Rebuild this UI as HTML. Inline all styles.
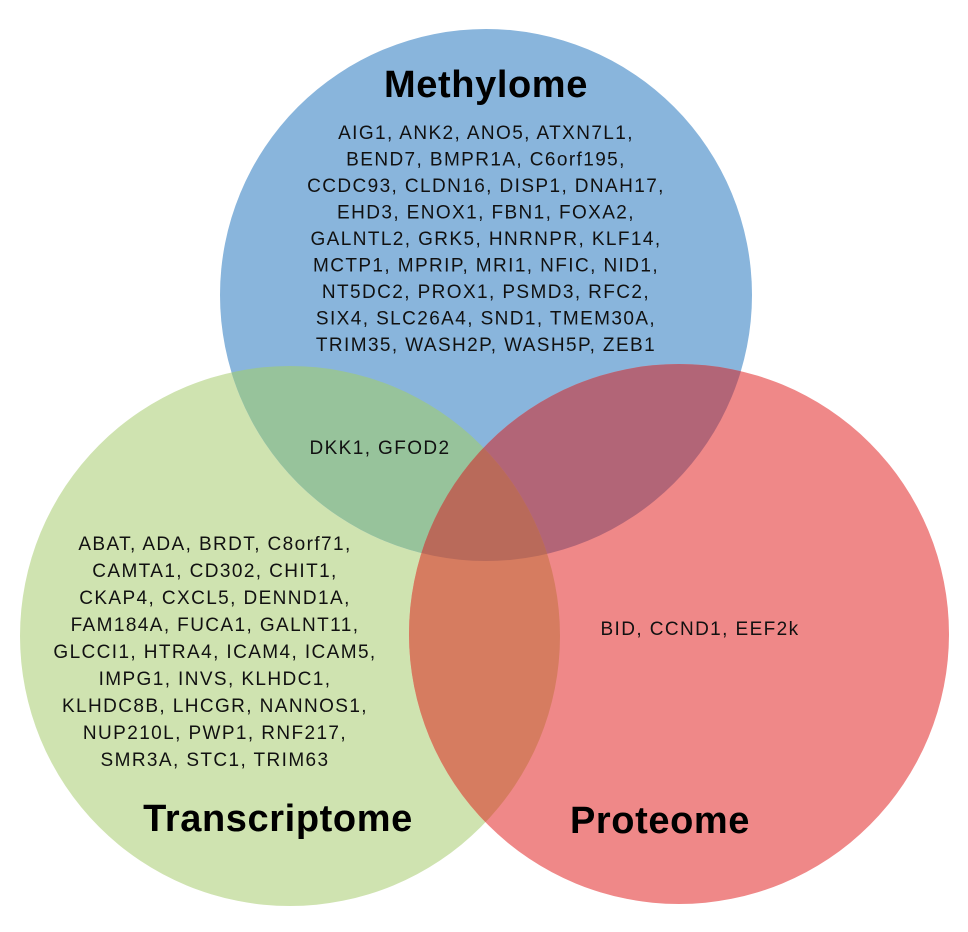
<!DOCTYPE html>
<html><head><meta charset="utf-8"><style>
body{margin:0;background:#fff}
svg{display:block;font-family:"Liberation Sans",Arial,sans-serif}
.g{font-size:19px;letter-spacing:1.4px;fill:#111;text-anchor:middle}
.t{font-size:38px;letter-spacing:0.6px;font-weight:bold;fill:#000;text-anchor:middle}
</style></head><body>
<svg width="968" height="932" viewBox="0 0 968 932">
<defs>
<clipPath id="cb"><circle cx="486" cy="295" r="266"/></clipPath>
<clipPath id="cg"><circle cx="290" cy="636" r="270"/></clipPath>
<clipPath id="cr"><circle cx="679" cy="634" r="270"/></clipPath>
</defs>
<circle cx="290" cy="636" r="270" fill="#cfe3b0"/>
<circle cx="486" cy="295" r="266" fill="#89b5dc"/>
<circle cx="679" cy="634" r="270" fill="#ef8888"/>
<g clip-path="url(#cb)"><circle cx="290" cy="636" r="270" fill="#97c39b"/></g>
<g clip-path="url(#cb)"><circle cx="679" cy="634" r="270" fill="#b26577"/></g>
<g clip-path="url(#cg)"><circle cx="679" cy="634" r="270" fill="#d67c60"/></g>
<g clip-path="url(#cb)"><g clip-path="url(#cg)"><circle cx="679" cy="634" r="270" fill="#b96a5a"/></g></g>

<text class="t" x="486" y="97">Methylome</text>
<g>
<text class="g" x="486" y="139">AIG1, ANK2, ANO5, ATXN7L1,</text>
<text class="g" x="486" y="165.5">BEND7, BMPR1A, C6orf195,</text>
<text class="g" x="486" y="192">CCDC93, CLDN16, DISP1, DNAH17,</text>
<text class="g" x="486" y="218.5">EHD3, ENOX1, FBN1, FOXA2,</text>
<text class="g" x="486" y="245">GALNTL2, GRK5, HNRNPR, KLF14,</text>
<text class="g" x="486" y="271.5">MCTP1, MPRIP, MRI1, NFIC, NID1,</text>
<text class="g" x="486" y="298">NT5DC2, PROX1, PSMD3, RFC2,</text>
<text class="g" x="486" y="324.5">SIX4, SLC26A4, SND1, TMEM30A,</text>
<text class="g" x="486" y="351">TRIM35, WASH2P, WASH5P, ZEB1</text>
</g>
<text class="g" x="380" y="454">DKK1, GFOD2</text>
<g>
<text class="g" x="215" y="550">ABAT, ADA, BRDT, C8orf71,</text>
<text class="g" x="215" y="577">CAMTA1, CD302, CHIT1,</text>
<text class="g" x="215" y="604">CKAP4, CXCL5, DENND1A,</text>
<text class="g" x="215" y="631">FAM184A, FUCA1, GALNT11,</text>
<text class="g" x="215" y="658">GLCCI1, HTRA4, ICAM4, ICAM5,</text>
<text class="g" x="215" y="685">IMPG1, INVS, KLHDC1,</text>
<text class="g" x="215" y="712">KLHDC8B, LHCGR, NANNOS1,</text>
<text class="g" x="215" y="739">NUP210L, PWP1, RNF217,</text>
<text class="g" x="215" y="766">SMR3A, STC1, TRIM63</text>
</g>
<text class="g" x="700" y="635">BID, CCND1, EEF2k</text>
<text class="t" x="278" y="831">Transcriptome</text>
<text class="t" x="660" y="833">Proteome</text>
</svg>
</body></html>
